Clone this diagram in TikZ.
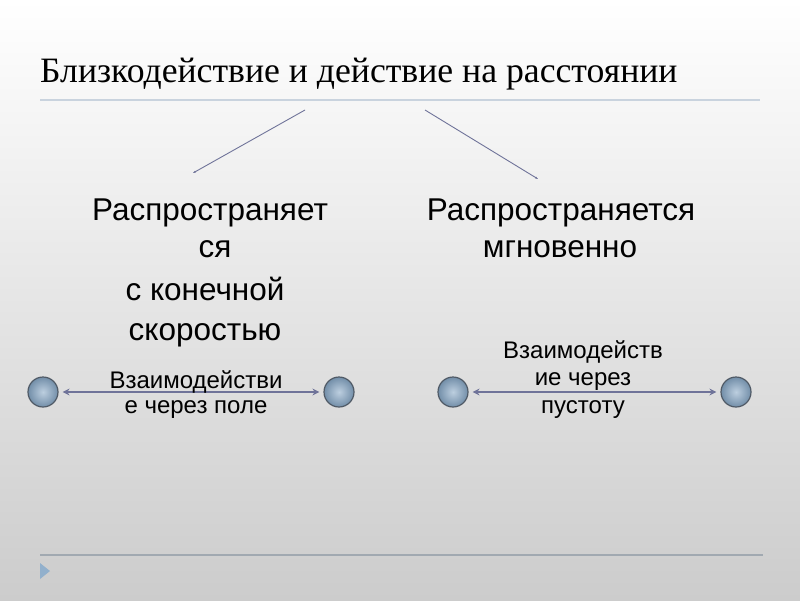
\documentclass[tikz,border=0pt]{standalone}
\usepackage{fontspec}
\setmainfont{Liberation Serif}
\newfontfamily\arial{Liberation Sans}
\usetikzlibrary{arrows.meta}
\definecolor{rule}{HTML}{C9D3DE}
\definecolor{link}{HTML}{6F7399}
\definecolor{ballfill}{HTML}{86A7C6}
\definecolor{balledge}{HTML}{505A66}
\tikzset{
  heading/.style={font=\arial\fontsize{31.5}{38}\selectfont, inner sep=0pt, anchor=base},
  smalltext/.style={font=\arial\fontsize{24}{27}\selectfont, inner sep=0pt, anchor=base},
  ball/.style={circle, minimum size=30pt, inner sep=0pt, draw=balledge, line width=1.2pt,
    inner color=ballfill!55!white, outer color=ballfill!85!black},
  link/.style={draw=link, line width=2pt, {Stealth[length=7pt,width=7pt]}-{Stealth[length=7pt,width=7pt]}, shorten <=4pt, shorten >=4pt},
  branch/.style={draw=link, line width=0.9pt, -{Stealth[length=3pt,width=2pt]}},
}
\begin{document}
\begin{tikzpicture}[x=1pt,y=-1pt]
\useasboundingbox (0,0) rectangle (800,600);
\shade[top color=white, bottom color=black!20] (0,0) rectangle (800,600);
% title
\node[anchor=base west, inner sep=0pt, font=\fontsize{35.7}{40}\selectfont] (title) at (40,82) {Близкодействие и действие на расстоянии};
\draw[rule, line width=1.2pt] (40,100) -- (760,100);
\draw[rule!80!black, line width=1.2pt] (40,555) -- (763,555);
\fill[ballfill!90!white] (40,563) -- (50,571) -- (40,579) -- cycle;
% two headings
\foreach \n/\x/\y/\lab in {1/210/220/{Распространяет},2/215/257/{ся},3/205/300/{с конечной},4/205/340/{скоростью}}
{
  \node[heading] (near\n) at (\x,\y) {\lab};
}
\foreach \n/\x/\y/\lab in {1/561/220/{Распространяется},2/560/257/{мгновенно}}
{
  \node[heading] (far\n) at (\x,\y) {\lab};
}
\coordinate (fromL) at (305,110);
\coordinate (toL) at (193,173);
\coordinate (fromR) at (425,110);
\coordinate (toR) at (538,179);
\draw[branch] (fromL) -- (toL);
\draw[branch] (fromR) -- (toR);
% charges
\node[ball] (a1) at (43,392) {};
\node[ball] (a2) at (339,392) {};
\node[ball] (b1) at (453,392) {};
\node[ball] (b2) at (736,392) {};
\draw[link] (a1) -- (a2);
\draw[link] (b1) -- (b2);
\node[smalltext] (field1) at (196,388) {Взаимодействи};
\node[smalltext] (field2) at (196,413) {е через поле};
\node[smalltext] (void1) at (583,358) {Взаимодейств};
\node[smalltext] (void2) at (583,385) {ие через};
\node[smalltext] (void3) at (583,413) {пустоту};
\end{tikzpicture}
\end{document}
